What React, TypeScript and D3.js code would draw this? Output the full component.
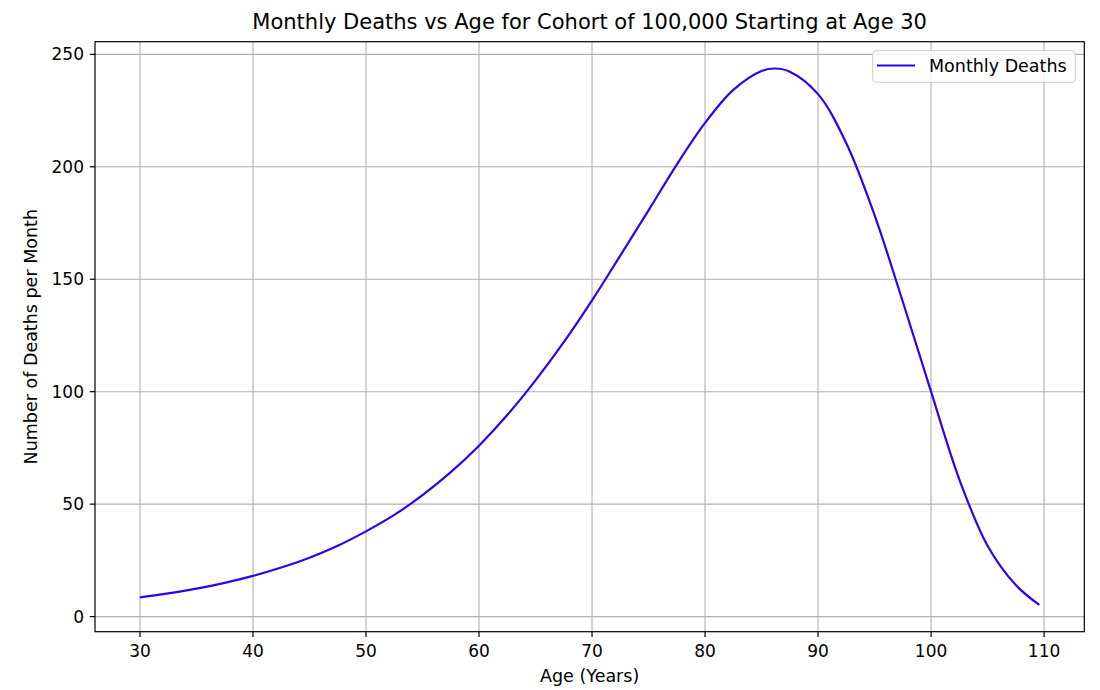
import React from "react";
import * as d3 from "d3";

const ages: number[] = [
  30, 32.5, 35, 37.5, 40, 42.5, 45, 47.5, 50, 52.5, 55, 57.5, 60, 62.5, 65, 67.5,
  70, 72.5, 75, 77.5, 80, 82.5, 85, 86.2, 87.5, 90, 92.5, 95, 97.5, 100, 102.5,
  105, 107.5, 109.58,
];
const monthlyDeaths: number[] = [
  8.5, 10.3, 12.4, 15.0, 18.1, 21.8, 26.2, 31.5, 37.9, 45.2, 54.0, 64.2, 76.0, 89.6,
  105.0, 122.0, 140.6, 160.5, 180.6, 201, 219.5, 234.2, 242.6, 243.7, 242.3, 232.3, 210.5,
  178.5, 140, 100, 61, 31.5, 14, 5.2,
];
const xTicks: number[] = [30, 40, 50, 60, 70, 80, 90, 100, 110];
const yTicks: number[] = [0, 50, 100, 150, 200, 250];

const title = "Monthly Deaths vs Age for Cohort of 100,000 Starting at Age 30";
const xLabel = "Age (Years)";
const yLabel = "Number of Deaths per Month";
const seriesName = "Monthly Deaths";

const W = 1100;
const H = 690;
const left = 95;
const right = 1084.3;
const top = 41.7;
const bottom = 631.7;
const lineColor = "#3300ee";
const font = "'DejaVu Sans', sans-serif";
const tickFs = 17;
const labelFs = 17.5;

export default function App() {
  const data = ages.map((a, i) => ({ age: a, v: monthlyDeaths[i] }));
  const [xMin, xMax] = d3.extent(ages) as [number, number];
  const [yMin, yMax] = d3.extent(monthlyDeaths) as [number, number];
  const xPad = (xMax - xMin) * 0.05;
  const yPad = (yMax - yMin) * 0.05;
  const x = d3.scaleLinear().domain([xMin - xPad, xMax + xPad]).range([left, right]);
  const y = d3.scaleLinear().domain([yMin - yPad, yMax + yPad]).range([bottom, top]);

  const line = d3
    .line<{ age: number; v: number }>()
    .x((d) => x(d.age))
    .y((d) => y(d.v))
    .curve(d3.curveCatmullRom.alpha(0.5));

  return (
    <svg width={W} height={H} style={{ position: "absolute", left: 0, top: 0 }} fontFamily={font}>
      <rect x={0} y={0} width={W} height={H} fill="#ffffff" />
      <defs>
        <clipPath id="plotclip">
          <rect x={left} y={top} width={right - left} height={bottom - top} />
        </clipPath>
      </defs>
      {/* grid */}
      <g stroke="#b0b0b0" strokeWidth={1.1}>
        {xTicks.map((t) => (
          <line key={"gx" + t} x1={x(t)} x2={x(t)} y1={top} y2={bottom} />
        ))}
        {yTicks.map((t) => (
          <line key={"gy" + t} x1={left} x2={right} y1={y(t)} y2={y(t)} />
        ))}
      </g>
      {/* series */}
      <path
        d={line(data) || ""}
        fill="none"
        stroke={lineColor}
        strokeWidth={2.2}
        strokeLinejoin="round"
        clipPath="url(#plotclip)"
      />
      {/* spines */}
      <rect x={left} y={top} width={right - left} height={bottom - top} fill="none" stroke="#000" strokeWidth={1.2} />
      {/* x ticks */}
      {xTicks.map((t) => (
        <g key={"xt" + t}>
          <line x1={x(t)} x2={x(t)} y1={bottom} y2={bottom + 5.2} stroke="#000" strokeWidth={1.2} />
          <text x={x(t)} y={657} textAnchor="middle" fontSize={tickFs} fill="#000">
            {t}
          </text>
        </g>
      ))}
      {/* y ticks */}
      {yTicks.map((t) => (
        <g key={"yt" + t}>
          <line x1={left - 5.2} x2={left} y1={y(t)} y2={y(t)} stroke="#000" strokeWidth={1.2} />
          <text x={left - 11} y={y(t)} dy="0.36em" textAnchor="end" fontSize={tickFs} fill="#000">
            {t}
          </text>
        </g>
      ))}
      {/* labels */}
      <text x={(left + right) / 2} y={29} textAnchor="middle" fontSize={21} fill="#000">
        {title}
      </text>
      <text x={(left + right) / 2} y={682} textAnchor="middle" fontSize={labelFs} fill="#000">
        {xLabel}
      </text>
      <text
        transform={`translate(37, ${(top + bottom) / 2}) rotate(-90)`}
        textAnchor="middle"
        fontSize={labelFs}
        fill="#000"
      >
        {yLabel}
      </text>
      {/* legend */}
      <g>
        <rect x={872.7} y={50.7} width={202.6} height={31.6} rx={3.5} fill="#ffffff" fillOpacity={0.8} stroke="#cccccc" strokeWidth={1} />
        <line x1={877} x2={915} y1={65.5} y2={65.5} stroke={lineColor} strokeWidth={2.2} />
        <text x={929} y={65.5} dy="0.36em" fontSize={labelFs} fill="#000">
          {seriesName}
        </text>
      </g>
    </svg>
  );
}
